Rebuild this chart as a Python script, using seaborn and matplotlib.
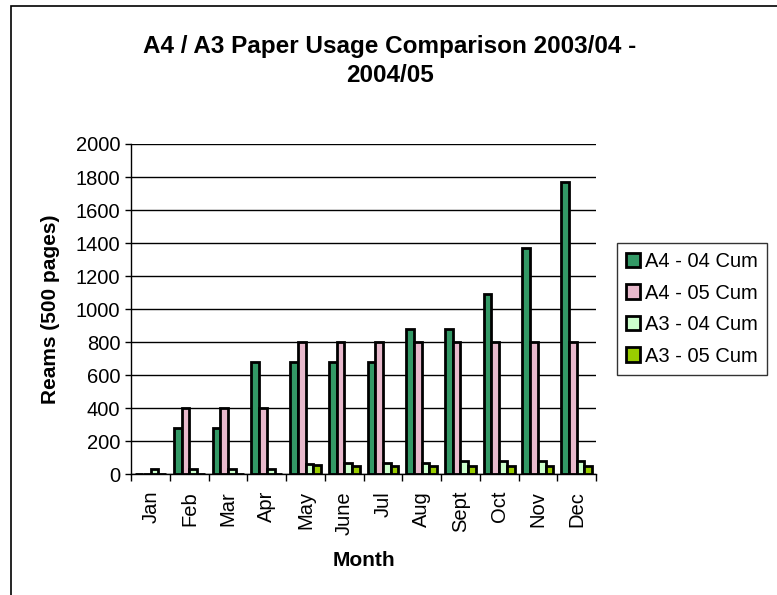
import numpy as np
import pandas as pd
import matplotlib
matplotlib.use("Agg")
import matplotlib.pyplot as plt
import seaborn as sns
from matplotlib.patches import Rectangle

months = ["Jan", "Feb", "Mar", "Apr", "May", "June", "Jul", "Aug", "Sept", "Oct", "Nov", "Dec"]
a4_04 = [0, 280, 280, 680, 680, 680, 680, 880, 880, 1090, 1370, 1770]
a4_05 = [0, 400, 400, 400, 800, 800, 800, 800, 800, 800, 800, 800]
a3_04 = [30, 30, 30, 30, 60, 70, 70, 70, 80, 80, 80, 80]
a3_05 = [0, 0, 0, 0, 55, 50, 50, 50, 50, 50, 50, 50]
series = ["A4 - 04 Cum", "A4 - 05 Cum", "A3 - 04 Cum", "A3 - 05 Cum"]
colors = ["#339966", "#E8B9CC", "#CCFFCC", "#99CC00"]

df = pd.DataFrame({
    "Month": months * 4,
    "Reams": a4_04 + a4_05 + a3_04 + a3_05,
    "Series": sum([[s] * len(months) for s in series], []),
})

sns.set_style("white")
plt.rcParams["font.family"] = ["Liberation Sans", "DejaVu Sans"]
plt.rcParams.update({"text.color": "black", "axes.labelcolor": "black",
                     "xtick.color": "black", "ytick.color": "black"})

fig = plt.figure(figsize=(7.77, 5.95), dpi=100)
ax = fig.add_axes([0.169, 0.203, 0.598, 0.555])

sns.barplot(data=df, x="Month", y="Reams", hue="Series", order=months,
            hue_order=series, palette=colors, width=0.8, saturation=1,
            edgecolor="black", linewidth=2, ax=ax, legend=True)

ax.set_ylim(0, 2000)
ax.set_xlim(-0.5, len(months) - 0.5)
ax.set_yticks(np.arange(0, 2001, 200))
ax.yaxis.grid(True, color="black", linewidth=1)
ax.set_axisbelow(True)
for side in ["top", "right"]:
    ax.spines[side].set_visible(False)
for side in ["left", "bottom"]:
    ax.spines[side].set_color("black")
    ax.spines[side].set_linewidth(1)

ax.tick_params(axis="y", labelsize=14.5, direction="out", length=4, width=1,
               color="black", left=True, pad=4)
ax.set_xticks(range(len(months)))
ax.set_xticklabels(months, rotation=90, fontsize=14.5)
ax.tick_params(axis="x", length=0, pad=12)
# category separator ticks like Excel
ax.set_xticks(np.arange(-0.5, len(months), 1), minor=True)
ax.tick_params(axis="x", which="minor", direction="out", length=5, width=1,
               color="black", bottom=True)

ax.set_xlabel("Month", fontsize=15, fontweight="bold", labelpad=12)
ax.set_ylabel("Reams (500 pages)", fontsize=15, fontweight="bold", labelpad=11)

fig.suptitle("A4 / A3 Paper Usage Comparison 2003/04 -\n2004/05",
             x=0.502, y=0.942, fontsize=17.5, fontweight="bold", linespacing=1.35)

handles, labels = ax.get_legend_handles_labels()
leg = ax.legend(handles, labels, loc="upper left",
                bbox_to_anchor=(617 / 777, 1 - 243 / 595),
                bbox_transform=fig.transFigure, fontsize=14.5, frameon=True,
                fancybox=False, edgecolor="black", handlelength=0.7,
                handleheight=0.7, handletextpad=0.25, labelspacing=0.62,
                borderpad=0.45, borderaxespad=0)
leg.get_frame().set_linewidth(1)

# chart area border (only top and left visible)
fig.patches.append(Rectangle((11 / 777, -0.05), 1.2, 1 - 6 / 595 + 0.05,
                             transform=fig.transFigure, fill=False,
                             edgecolor="black", linewidth=1.2))

fig.savefig("out.png", dpi=100)
